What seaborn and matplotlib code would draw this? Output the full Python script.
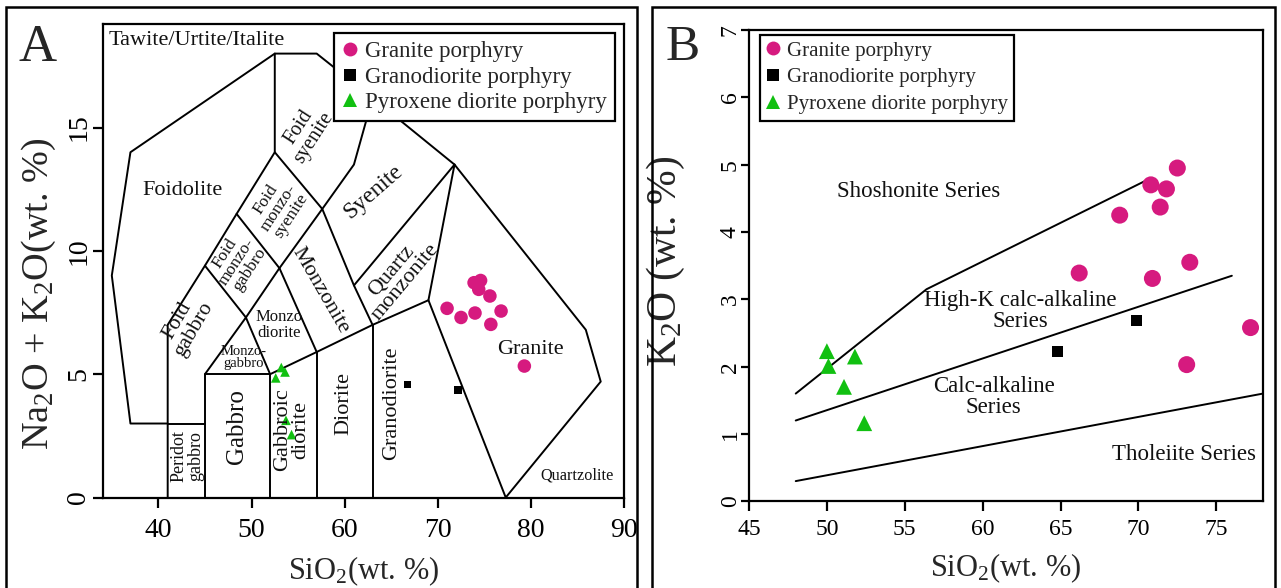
import matplotlib
matplotlib.use("Agg")
import matplotlib.pyplot as plt
from matplotlib.lines import Line2D
from matplotlib.patches import Rectangle
import seaborn as sns
import pandas as pd

# ---------------- data ----------------
rock_types = ["Granite porphyry", "Granodiorite porphyry", "Pyroxene diorite porphyry"]
colors = {"Granite porphyry": "#D61A7F", "Granodiorite porphyry": "#000000",
          "Pyroxene diorite porphyry": "#11C011"}
markers = {"Granite porphyry": "o", "Granodiorite porphyry": "s",
           "Pyroxene diorite porphyry": "^"}

# Panel A (TAS)
granite_sio2_A = [73.9, 74.6, 74.4, 75.6, 71.0, 72.5, 74.0, 76.8, 75.7, 79.3]
granite_alk_A = [8.71, 8.80, 8.44, 8.17, 7.67, 7.30, 7.48, 7.56, 7.02, 5.33]
grd_sio2_A = [66.75, 72.2]
grd_alk_A = [4.59, 4.35]
pyx_sio2_A = [53.2, 53.6, 52.6, 53.7, 54.3]
pyx_alk_A = [5.27, 5.09, 4.85, 3.13, 2.55]

# Panel B (K2O vs SiO2)
granite_sio2_B = [72.5, 70.8, 71.8, 71.4, 68.8, 66.2, 70.9, 73.3, 77.2, 73.1]
granite_k2o_B = [4.95, 4.70, 4.64, 4.37, 4.25, 3.39, 3.31, 3.55, 2.58, 2.03]
grd_sio2_B = [64.8, 69.9]
grd_k2o_B = [2.22, 2.69]
pyx_sio2_B = [50.0, 51.8, 50.1, 51.1, 52.4]
pyx_k2o_B = [2.23, 2.15, 2.01, 1.70, 1.16]

# TAS (Middlemost 1994) field boundaries
tas_boundaries = [
    [(41, 0), (41, 7), (45, 9.4), (48.4, 11.5), (52.5, 14), (52.5, 18), (57, 18),
     (63, 16.2), (71.8, 13.5), (85.9, 6.8), (87.5, 4.7), (77.3, 0)],
    [(41, 3), (37, 3), (35, 9), (37, 14), (52.5, 18)],
    [(41, 3), (45, 3)],
    [(45, 0), (45, 5), (52, 5), (52, 0)],
    [(45, 5), (49.4, 7.3), (52, 5)],
    [(45, 9.4), (49.4, 7.3), (53, 9.3)],
    [(52, 5), (57, 5.9), (63, 7), (69, 8), (71.8, 13.5)],
    [(57, 0), (57, 5.9)],
    [(63, 0), (63, 7)],
    [(69, 8), (77.3, 0)],
    [(48.4, 11.5), (53, 9.3), (57, 5.9)],
    [(52.5, 14), (57.6, 11.7), (61, 8.6), (63, 7)],
    [(53, 9.3), (57.6, 11.7), (61, 13.5), (63, 16.2)],
    [(61, 8.6), (71.8, 13.5)],
]
# text, x, y, rotation, fontsize, ha, linespacing
tas_labels = [
    ("Tawite/Urtite/Italite", 34.6, 18.55, 0, 16, "left", 1.0),
    ("Foidolite", 42.6, 12.45, 0, 16, "center", 1.0),
    ("Foid\ngabbro", 42.9, 7.0, 60, 15.5, "center", 0.95),
    ("Foid\nmonzo-\ngabbro", 48.45, 9.57, 57, 12.5, "center", 0.9),
    ("Foid\nmonzo-\nsyenite", 52.9, 11.75, 57, 12.5, "center", 0.9),
    ("Foid\nsyenite", 55.9, 14.8, 57, 14.5, "center", 0.95),
    ("Syenite", 63.1, 12.4, 41, 17, "center", 1.0),
    ("Monzonite", 57.4, 8.4, -60, 16, "center", 1.0),
    ("Monzo\ndiorite", 53.0, 7.0, 0, 12, "center", 0.95),
    ("Monzo-\ngabbro", 49.15, 5.68, 0, 10.5, "center", 0.95),
    ("Quartz\nmonzonite", 65.8, 8.96, 50, 16, "center", 0.95),
    ("Peridot\ngabbro", 43.1, 1.66, 90, 13, "center", 0.95),
    ("Gabbro", 48.45, 2.87, 90, 18, "center", 1.0),
    ("Gabbroic\ndiorite", 54.35, 2.74, 90, 16, "center", 0.95),
    ("Diorite", 59.9, 3.83, 90, 16, "center", 1.0),
    ("Granodiorite", 65.1, 3.82, 90, 16, "center", 1.0),
    ("Granite", 79.95, 6.0, 0, 16, "center", 1.0),
    ("Quartzolite", 84.97, 0.91, 0, 11.7, "center", 1.0),
]

# K2O-SiO2 series boundaries
sho_x = [48, 56.4, 70.8]
sho_y = [1.6, 3.15, 4.8]
hk_x = [48, 76]
hk_y = [1.2, 3.35]
th_x = [48, 78]
th_y = [0.3, 1.6]
series_labels = [
    ("Shoshonite Series", 55.9, 4.6),
    ("High-K calc-alkaline\nSeries", 62.4, 2.83),
    ("Calc-alkaline\nSeries", 60.7, 1.55),
    ("Tholeiite Series", 72.9, 0.69),
]


def make_df(gx, gy, dx, dy, px, py, ycol):
    rows = []
    for name, xs, ys in zip(rock_types, [gx, dx, px], [gy, dy, py]):
        for x, y in zip(xs, ys):
            rows.append({"SiO2": x, ycol: y, "rock": name})
    return pd.DataFrame(rows)


dfA = make_df(granite_sio2_A, granite_alk_A, grd_sio2_A, grd_alk_A,
              pyx_sio2_A, pyx_alk_A, "alk")
dfB = make_df(granite_sio2_B, granite_k2o_B, grd_sio2_B, grd_k2o_B,
              pyx_sio2_B, pyx_k2o_B, "K2O")

# ---------------- style ----------------
sns.set_style("ticks")
plt.rcParams["font.family"] = ["Liberation Serif", "DejaVu Serif"]
plt.rcParams["mathtext.fontset"] = "custom"
plt.rcParams["mathtext.rm"] = "Liberation Serif"
plt.rcParams["mathtext.it"] = "Liberation Serif:italic"
plt.rcParams["axes.linewidth"] = 1.6
plt.rcParams["xtick.major.width"] = 1.6
plt.rcParams["ytick.major.width"] = 1.6
plt.rcParams["xtick.major.size"] = 7
plt.rcParams["ytick.major.size"] = 7
plt.rcParams["xtick.color"] = "black"
plt.rcParams["ytick.color"] = "black"
plt.rcParams["axes.edgecolor"] = "black"

fig = plt.figure(figsize=(12.81, 5.88), dpi=100)
W, H = 1281, 588

def px_axes(l, t, r, b):
    return fig.add_axes([l / W, 1 - b / H, (r - l) / W, (b - t) / H])

axA = px_axes(102.5, 24, 624, 497.5)
axB = px_axes(749, 30, 1263, 501.3)

# outer frames
for (l, r) in [(6, 637), (652, 1275)]:
    fig.patches.append(Rectangle((l / W, -0.05), (r - l) / W, 1.05 - 7 / H,
                                 transform=fig.transFigure, fill=False,
                                 edgecolor="black", linewidth=1.8))

# ---------------- panel A ----------------
sizesA = {"Granite porphyry": 95, "Granodiorite porphyry": 30,
          "Pyroxene diorite porphyry": 48}
for seg in tas_boundaries:
    xs = [p[0] for p in seg]
    ys = [p[1] for p in seg]
    axA.plot(xs, ys, color="black", lw=1.4, zorder=1)
sns.scatterplot(data=dfA, x="SiO2", y="alk", hue="rock", style="rock", size="rock",
                palette=colors, markers=markers, sizes=sizesA, linewidth=0,
                legend=False, ax=axA, zorder=3)
for txt, x, y, rot, fs, ha, ls in tas_labels:
    axA.text(x, y, txt, rotation=rot, fontsize=fs, ha=ha, va="center",
             multialignment="center", linespacing=ls, rotation_mode="anchor",
             color="#111111")
axA.set_xlim(34, 90)
axA.set_ylim(0, 19.2)
axA.set_xticks([40, 50, 60, 70, 80, 90])
axA.set_yticks([0, 5, 10, 15])
axA.tick_params(axis="x", labelsize=20, pad=8)
axA.tick_params(axis="y", labelsize=20, pad=1)
for lab in axA.get_yticklabels():
    lab.set_rotation(90)
    lab.set_va("center")
axA.set_xlabel(r"SiO$_\mathregular{2}$(wt. %)", fontsize=22, labelpad=8)
axA.set_ylabel(r"Na$_\mathregular{2}$O + K$_\mathregular{2}$O(wt. %)", fontsize=27.5)
axA.yaxis.set_label_coords(-0.085, 0.43)
fig.text(38 / W, 1 - 48 / H, "A", fontsize=38, ha="center", va="center")

def legend_handles(ms):
    return [Line2D([], [], linestyle="none", marker=markers[r], color=colors[r],
                   markersize=ms[r], markeredgewidth=0, label=r) for r in rock_types]

msA = {"Granite porphyry": 10, "Granodiorite porphyry": 9,
       "Pyroxene diorite porphyry": 10}
legA = axA.legend(handles=legend_handles(msA), loc="upper right",
                  bbox_to_anchor=(0.983, 0.981), fontsize=16.5, frameon=True,
                  fancybox=False, framealpha=1, edgecolor="black",
                  handlelength=0.7, handletextpad=0.3, borderpad=0.35,
                  labelspacing=0.2, borderaxespad=0)
legA.get_frame().set_linewidth(1.6)

# ---------------- panel B ----------------
sizesB = {"Granite porphyry": 150, "Granodiorite porphyry": 60,
          "Pyroxene diorite porphyry": 130}
axB.plot(sho_x, sho_y, color="black", lw=1.4, zorder=1)
axB.plot(hk_x, hk_y, color="black", lw=1.4, zorder=1)
axB.plot(th_x, th_y, color="black", lw=1.4, zorder=1)
sns.scatterplot(data=dfB, x="SiO2", y="K2O", hue="rock", style="rock", size="rock",
                palette=colors, markers=markers, sizes=sizesB, linewidth=0,
                legend=False, ax=axB, zorder=3)
for txt, x, y in series_labels:
    axB.text(x, y, txt, fontsize=16.5, ha="center", va="center",
             multialignment="center", linespacing=1.0, color="#111111")
axB.set_xlim(45, 78)
axB.set_ylim(0, 7)
axB.set_xticks([45, 50, 55, 60, 65, 70, 75])
axB.set_yticks([0, 1, 2, 3, 4, 5, 6, 7])
axB.tick_params(axis="x", labelsize=17, pad=6)
axB.tick_params(axis="y", labelsize=17, length=6, pad=0)
for lab in axB.get_yticklabels():
    lab.set_rotation(90)
    lab.set_va("center")
axB.set_xlabel(r"SiO$_\mathregular{2}$(wt. %)", fontsize=22, labelpad=8)
axB.set_ylabel(r"K$_\mathregular{2}$O (wt. %)", fontsize=30)
axB.yaxis.set_label_coords(-0.12, 0.51)
fig.text(683 / W, 1 - 48 / H, "B", fontsize=37, ha="center", va="center")

msB = {"Granite porphyry": 10, "Granodiorite porphyry": 9,
       "Pyroxene diorite porphyry": 10}
legB = axB.legend(handles=legend_handles(msB), loc="upper left",
                  bbox_to_anchor=(0.021, 0.99), fontsize=15, frameon=True,
                  fancybox=False, framealpha=1, edgecolor="black",
                  handlelength=0.7, handletextpad=0.3, borderpad=0.3,
                  labelspacing=0.35, borderaxespad=0)
legB.get_frame().set_linewidth(1.6)

fig.savefig("out.png", dpi=100)
